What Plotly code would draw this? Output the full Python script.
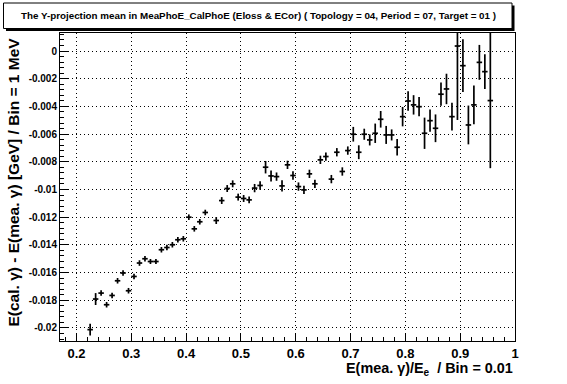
import plotly.graph_objects as go

# ---- data ----
bin_centers = [0.225, 0.235, 0.245, 0.255, 0.265, 0.275, 0.285, 0.295, 0.305, 0.315,
               0.325, 0.335, 0.345, 0.355, 0.365, 0.375, 0.385, 0.395, 0.405, 0.415,
               0.425, 0.435, 0.455, 0.465, 0.475, 0.485, 0.495, 0.505, 0.515, 0.525,
               0.535, 0.545, 0.555, 0.565, 0.575, 0.585, 0.595, 0.605, 0.615, 0.625,
               0.635, 0.645, 0.655, 0.665, 0.675, 0.685, 0.695, 0.705, 0.715, 0.725,
               0.735, 0.745, 0.755, 0.765, 0.775, 0.785, 0.795, 0.805, 0.815, 0.825,
               0.835, 0.845, 0.855, 0.865, 0.875, 0.885, 0.895, 0.905, 0.915, 0.925,
               0.935, 0.945, 0.955]
mean_values = [-0.02012, -0.01791, -0.01748, -0.01832, -0.01765, -0.01659, -0.01603, -0.01731, -0.01628, -0.01531,
               -0.01500, -0.01520, -0.01520, -0.01435, -0.01419, -0.01399, -0.01363, -0.01356, -0.01200, -0.01284,
               -0.01233, -0.01166, -0.01224, -0.01080, -0.00993, -0.00959, -0.01055, -0.01065, -0.01075, -0.00990,
               -0.00971, -0.00839, -0.00902, -0.00907, -0.00974, -0.00822, -0.00899, -0.00979, -0.01003, -0.00887,
               -0.00959, -0.00786, -0.00762, -0.00925, -0.00731, -0.00870, -0.00719, -0.00601, -0.00731, -0.00601,
               -0.00642, -0.00594, -0.00493, -0.00606, -0.00606, -0.00695, -0.00474, -0.00361, -0.00389, -0.00402,
               -0.00594, -0.00503, -0.00558, -0.00312, -0.00274, -0.00474, 0.00036, -0.00106, -0.00534, -0.00389,
               -0.00082, -0.00149, -0.00358]
mean_errors = [0.00042, 0.00043, 0.00020, 0.00020, 0.00020, 0.00020, 0.00020, 0.00020, 0.00020, 0.00020,
               0.00020, 0.00018, 0.00018, 0.00020, 0.00020, 0.00020, 0.00020, 0.00020, 0.00020, 0.00020,
               0.00020, 0.00020, 0.00025, 0.00025, 0.00025, 0.00025, 0.00025, 0.00025, 0.00025, 0.00030,
               0.00030, 0.00045, 0.00040, 0.00030, 0.00040, 0.00030, 0.00030, 0.00030, 0.00030, 0.00030,
               0.00030, 0.00030, 0.00030, 0.00030, 0.00030, 0.00030, 0.00030, 0.00053, 0.00050, 0.00040,
               0.00040, 0.00070, 0.00060, 0.00065, 0.00040, 0.00060, 0.00070, 0.00070, 0.00070, 0.00070,
               0.00113, 0.00080, 0.00100, 0.00084, 0.00110, 0.00100, 0.00534, 0.00190, 0.00140, 0.00140,
               0.00126, 0.00126, 0.00488]
bin_half_width = 0.005

x_tick_vals = [0.2, 0.3, 0.4, 0.5, 0.6, 0.7, 0.8, 0.9, 1.0]
x_tick_text = ["0.2", "0.3", "0.4", "0.5", "0.6", "0.7", "0.8", "0.9", "1"]
y_tick_vals = [0, -0.002, -0.004, -0.006, -0.008, -0.01, -0.012, -0.014, -0.016, -0.018, -0.02]
y_tick_text = ["0", "-0.002", "-0.004", "-0.006", "-0.008", "-0.01", "-0.012", "-0.014", "-0.016", "-0.018", "-0.02"]

title_text = ("The Y-projection mean in MeaPhoE_CalPhoE (Eloss &amp; ECor) "
              "( Topology = 04, Period = 07, Target = 01 )")
x_title = "E(mea. \u03b3)/E<sub>e</sub>  / Bin = 0.01"
y_title = "E(cal. \u03b3) - E(mea. \u03b3) [GeV] / Bin = 1 MeV"

FONT = "Liberation Sans, Arial, Helvetica, sans-serif"

W, H = 567, 384
L, R, T, B = 60, 515, 33, 341  # plot frame in pixels


def px_x(p):
    return (p - L) / (R - L)


def px_y(p):
    return (B - p) / (B - T)


fig = go.Figure()
fig.add_trace(go.Scatter(
    x=bin_centers, y=mean_values,
    mode="markers",
    marker=dict(size=1, color="black"),
    error_y=dict(type="data", array=mean_errors, visible=True, color="black",
                 thickness=1.7, width=0),
    error_x=dict(type="constant", value=bin_half_width, visible=True, color="black",
                 thickness=1.7, width=0),
    showlegend=False,
    cliponaxis=True,
))

axis_common = dict(
    showline=True, linecolor="black", linewidth=1, mirror=True,
    showgrid=True, gridcolor="black", gridwidth=1, griddash="1px,3px",
    zeroline=False, ticks="inside", tickcolor="black",
)

fig.update_xaxes(
    range=[0.17, 1.0], tickvals=x_tick_vals, ticktext=x_tick_text,
    ticklen=8, tickwidth=1,
    minor=dict(dtick=0.02, tick0=0.2, ticklen=4, ticks="inside", tickcolor="black", showgrid=False),
    tickfont=dict(family=FONT, size=13, color="black", weight="bold"),
    **axis_common,
)
fig.update_yaxes(
    range=[-0.02094, 0.0013], tickvals=y_tick_vals, ticktext=y_tick_text,
    ticklen=8, tickwidth=1,
    minor=dict(dtick=0.0004, tick0=0, ticklen=4, ticks="inside", tickcolor="black", showgrid=False),
    tickfont=dict(family=FONT, size=10, color="black", weight="bold"),
    **axis_common,
)

# title box with shadow
fig.add_shape(type="rect", xref="paper", yref="paper",
              x0=px_x(6), x1=px_x(514.5), y0=px_y(31), y1=px_y(5.5),
              fillcolor="black", line=dict(width=0), layer="above")
fig.add_shape(type="rect", xref="paper", yref="paper",
              x0=px_x(3.5), x1=px_x(512), y0=px_y(28.5), y1=px_y(3),
              fillcolor="white", line=dict(color="black", width=1), layer="above")
fig.add_annotation(xref="paper", yref="paper", x=px_x(258), y=px_y(15.5),
                   text="<b>" + title_text + "</b>", showarrow=False,
                   xanchor="center", yanchor="middle",
                   font=dict(family=FONT, size=9.8, color="black"))

fig.add_annotation(xref="paper", yref="paper", x=1.0, y=px_y(369),
                   text="<b>" + x_title + "</b>", showarrow=False,
                   xanchor="right", yanchor="middle",
                   font=dict(family=FONT, size=14.4, color="black"))
fig.add_annotation(xref="paper", yref="paper", x=px_x(13), y=px_y(36),
                   text="<b>" + y_title + "</b>", showarrow=False, textangle=-90,
                   xanchor="center", yanchor="top",
                   font=dict(family=FONT, size=15.5, color="black"))

fig.update_layout(
    width=W, height=H,
    margin=dict(l=L, r=W - R, t=T, b=H - B, pad=0),
    paper_bgcolor="white", plot_bgcolor="white",
    font=dict(family=FONT, color="black"),
)

fig.write_html("out.html",
               config={"displayModeBar": False},
               post_script="document.body.style.margin='0';document.body.style.padding='0';")
